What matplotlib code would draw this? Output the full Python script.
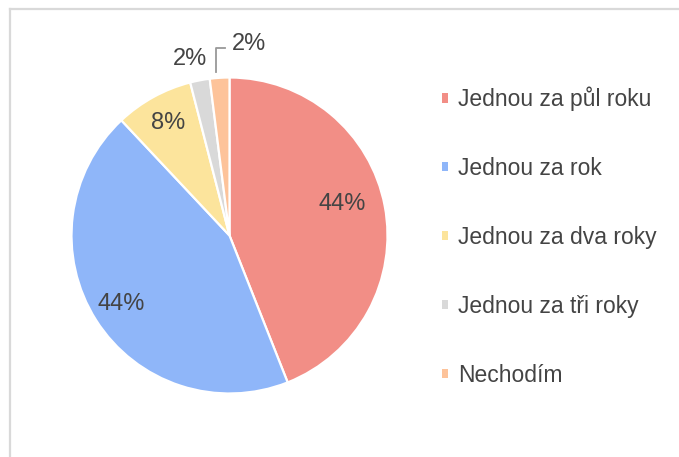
import numpy as np
import matplotlib.pyplot as plt
from matplotlib.lines import Line2D
from matplotlib.patches import Patch

plt.rcParams['font.family'] = ['Liberation Sans', 'DejaVu Sans']

# data
labels = ["Jednou za půl roku", "Jednou za rok", "Jednou za dva roky",
          "Jednou za tři roky", "Nechodím"]
values = [44, 44, 8, 2, 2]
colors = ["#F28E86", "#8FB6F9", "#FCE49C", "#D9D9D9", "#FDC39A"]
txt_col = "#444444"

fig = plt.figure(figsize=(6.79, 4.57), dpi=100)
ax = fig.add_axes([71.5/679, 63.5/457, 316/679, 316/457])

wedges, texts, autotexts = ax.pie(
    values, colors=colors, startangle=90, counterclock=False,
    autopct=lambda p: "%d%%" % round(p), pctdistance=0.81,
    wedgeprops=dict(edgecolor="white", linewidth=1.6),
    textprops=dict(color=txt_col, fontsize=17))
ax.set_xlim(-1, 1)
ax.set_ylim(-1, 1)
ax.set_aspect("equal")
ax.axis("off")

# red label sits a bit further in
w = wedges[0]
ang = np.deg2rad((w.theta1 + w.theta2) / 2 + 5)
autotexts[0].set_position((0.74 * np.cos(ang), 0.74 * np.sin(ang)))

# small slices: labels outside
w = wedges[3]
ang = np.deg2rad((w.theta1 + w.theta2) / 2)
autotexts[3].set_position((1.33 * np.cos(ang), 1.14 * np.sin(ang)))

w = wedges[4]
ang = np.deg2rad((w.theta1 + w.theta2) / 2)
x0, y0 = 1.04 * np.cos(ang) - 0.02, 1.04 * np.sin(ang)
ax.add_line(Line2D([x0, x0, x0 + 0.055], [y0, 1.187, 1.187],
                   color="#999999", lw=1.3, clip_on=False))
autotexts[4].set_position((x0 + 0.1, 1.21))
autotexts[4].set_ha("left")
for t in autotexts:
    t.set_clip_on(False)

# legend
handles = [Patch(facecolor=c, edgecolor="none") for c in colors]
leg = fig.legend(handles, labels, loc="upper left",
                 bbox_to_anchor=(421/679, 1 - 66/457), frameon=False,
                 fontsize=16.5, labelcolor=txt_col, handlelength=0.28,
                 handleheight=0.25, handletextpad=0.42, labelspacing=2.0)

# light frame around the chart
fig.add_artist(Line2D([9.5/679, 1], [1 - 8.5/457, 1 - 8.5/457],
                      color="#D9D9D9", lw=1.6))
fig.add_artist(Line2D([9.5/679, 9.5/679], [0, 1 - 8.5/457],
                      color="#D9D9D9", lw=1.6))

fig.savefig("out.png", dpi=100)
